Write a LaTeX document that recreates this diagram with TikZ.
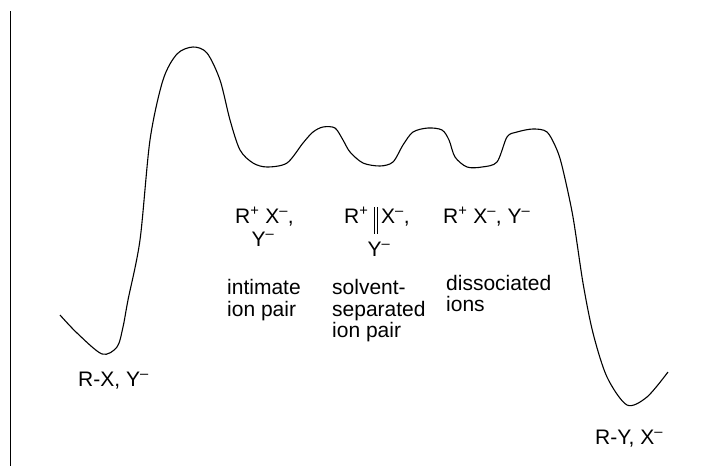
\documentclass[tikz,border=0pt]{standalone}
\usepackage{fontspec}
\setmainfont{Liberation Sans}
\begin{document}
\begin{tikzpicture}[x=1pt,y=-1pt,
  lbl/.style={anchor=base west,inner sep=0pt,font=\fontsize{21}{22}\selectfont},
  curve/.style={line width=1.1pt,line join=round},
  axisline/.style={line width=1.3pt}]
\useasboundingbox (0,0) rectangle (724,466);
\fill[white] (0,0) rectangle (724,466);
\draw[axisline] (10.5,11) -- (10.5,466);
\draw[curve] plot[smooth,tension=0.5] coordinates {
 (60,315) (77,333) (102,354) (117,347) (123,327) (128,300) (140,240) (150,140) (163,80) (177,54) (193,47)
 (207,53) (220,80) (230,120) (240,150) (253,163) (267,167) (287,163) (303,143) (313,132) (323,127)
 (335,128) (343,140) (350,152) (363,163) (380,166) (393,162) (403,145) (413,132) (428,128) (442,130)
 (449,140) (455,157) (467,167) (482,167) (497,162) (507,137) (517,132) (533,129) (547,132)
 (557,150) (563,170) (573,217) (583,283) (593,333) (607,377) (627,405) (647,397) (668,372)};
\node[lbl] (rx) at (78,386) {R-X, Y\textsuperscript{–}};
\node[lbl] (ry) at (595,444) {R-Y, X\textsuperscript{–}};
\node[lbl] (a1) at (235,223) {R\textsuperscript{+} X\textsuperscript{–},};
\node[lbl,anchor=base] (a2) at (263,246) {Y\textsuperscript{–}};
\node[lbl] (b1) at (344,223) {R\textsuperscript{+}};
\node[lbl] (b2) at (381,223) {X\textsuperscript{–},};
\node[lbl,anchor=base] (b3) at (379,256) {Y\textsuperscript{–}};
\draw[line width=0.9pt] (374,207) -- (374,234) (377.5,207) -- (377.5,234);
\node[lbl] (c1) at (443,223) {R\textsuperscript{+} X\textsuperscript{–}, Y\textsuperscript{–}};
\node[lbl] (t1) at (227,294) {intimate};
\node[lbl] (t2) at (227,316) {ion pair};
\node[lbl] (s1) at (332,294) {solvent-};
\node[lbl] (s2) at (332,316) {separated};
\node[lbl] (s3) at (332,337) {ion pair};
\node[lbl] (d1) at (446,290) {dissociated};
\node[lbl] (d2) at (446,311) {ions};
\end{tikzpicture}
\end{document}
